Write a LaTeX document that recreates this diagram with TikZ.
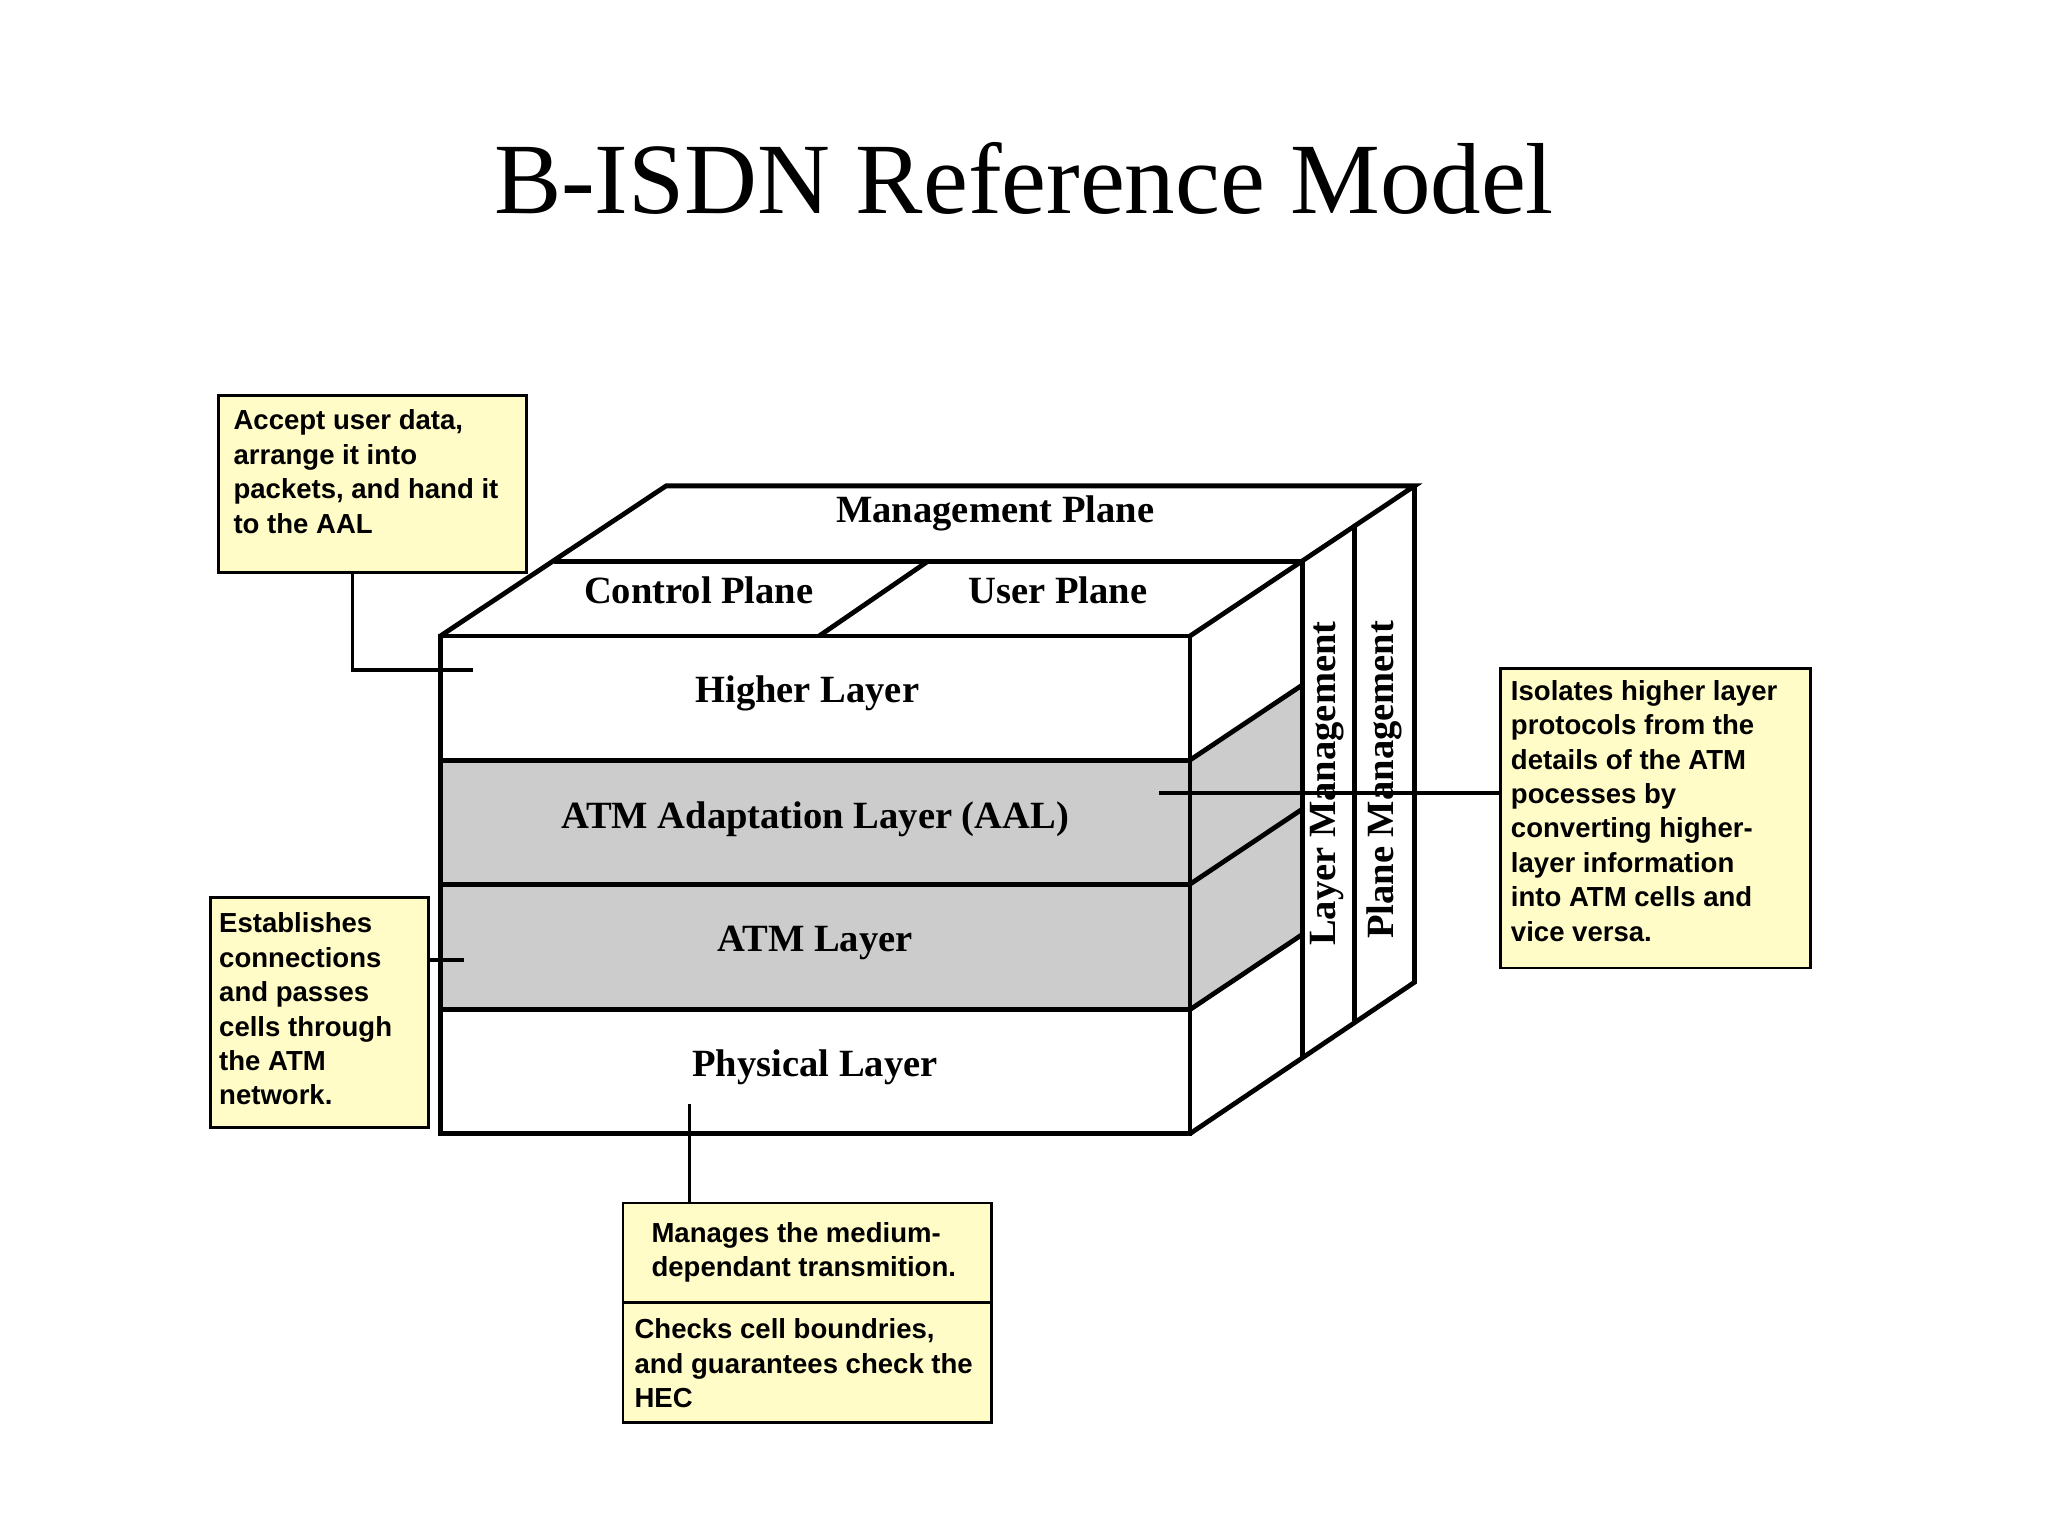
\documentclass[tikz,border=0pt]{standalone}
\usepackage{fontspec}
\setmainfont{Liberation Serif}
\newfontfamily\boxfont{Liberation Sans}
\begin{document}
\begin{tikzpicture}[x=0.05cm,y=-0.05cm,line width=5.2pt,line join=miter,
  lay/.style={font=\fontsize{42}{48}\selectfont\bfseries},
  note/.style={draw,fill=yellow!22,line width=3pt},
  ntxt/.style={font=\boxfont\fontsize{30}{37.5}\selectfont\bfseries,align=left,anchor=north west,inner sep=0pt},
  con/.style={line width=4pt}]
\useasboundingbox (0,0) rectangle (1568,1176);
\fill[white] (0,0) rectangle (1568,1176);
\node[font=\fontsize{110}{120}\selectfont] (title) at (784,137) {B-ISDN Reference Model};
% gray layers
\fill[gray!40] (337,582) rectangle (911,773);
\fill[gray!40] (911,582) -- (997,524.5) -- (997,715.5) -- (911,773) -- cycle;
% front face
\draw (337,487) rectangle (911,868);
\draw (337,582) -- (911,582) (337,677) -- (911,677) (337,773) -- (911,773);
% top face
\draw (337,487) -- (510,372) -- (1083,372) -- (911,487);
\draw (424,430) -- (997,430);
\draw (627,487) -- (710,430);
% right face
\draw (911,868) -- (1083,752) -- (1083,372);
\draw (997,430) -- (997,810);
\draw (1037,402) -- (1037,782);
\draw (911,582) -- (997,524.5) (911,677) -- (997,619.5) (911,773) -- (997,715.5);
% labels
\node[lay] (mp) at (762,393) {Management Plane};
\node[lay] (cp) at (535,452) {Control Plane};
\node[lay] (up) at (810,452) {User Plane};
\node[lay] (hl) at (618,531) {Higher Layer};
\node[lay] (aal) at (624,627) {ATM Adaptation Layer (AAL)};
\node[lay] (atm) at (624,722) {ATM Layer};
\node[lay] (phy) at (624,817) {Physical Layer};
\node[lay,rotate=90] (lm) at (1016,600) {Layer Management};
\node[lay,rotate=90] (pm) at (1060,597) {Plane Management};
% notes
\node[note,minimum width=236*0.05cm,minimum height=135*0.05cm,anchor=north west] (n1) at (166,302) {};
\node[ntxt] at (177,312) {Accept user data,\\arrange it into\\packets, and hand it\\to the AAL};
\node[note,minimum width=167*0.05cm,minimum height=176*0.05cm,anchor=north west] (n2) at (160,686) {};
\node[ntxt] at (166,697) {Establishes\\connections\\and passes\\cells through\\the ATM\\network.};
\node[note,minimum width=237*0.05cm,minimum height=229*0.05cm,anchor=north west] (n3) at (1148,511) {};
\node[ntxt] at (1155,519) {Isolates higher layer\\protocols from the\\details of the ATM\\pocesses by\\converting higher-\\layer information\\into ATM cells and\\vice versa.};
\node[note,minimum width=282*0.05cm,minimum height=76*0.05cm,anchor=north west] (n4) at (476,920) {};
\node[ntxt] at (497,934) {Manages the medium-\\dependant transmition.};
\node[note,minimum width=282*0.05cm,minimum height=92*0.05cm,anchor=north west] (n5) at (476,996) {};
\node[ntxt] at (484,1008) {Checks cell boundries,\\and guarantees check the\\HEC};
% connectors
\coordinate (c1) at (362,513);
\coordinate (c2) at (355,735);
\coordinate (c3) at (887,607);
\coordinate (c4) at (528,845);
\draw[con] (n1.south west) ++(104,0) |- (c1);
\draw[con] (n2.east |- c2) -- (c2);
\draw[con] (c3) -- (n3.west |- c3);
\draw[con] (c4) -- (c4 |- n4.north);
\end{tikzpicture}
\end{document}
